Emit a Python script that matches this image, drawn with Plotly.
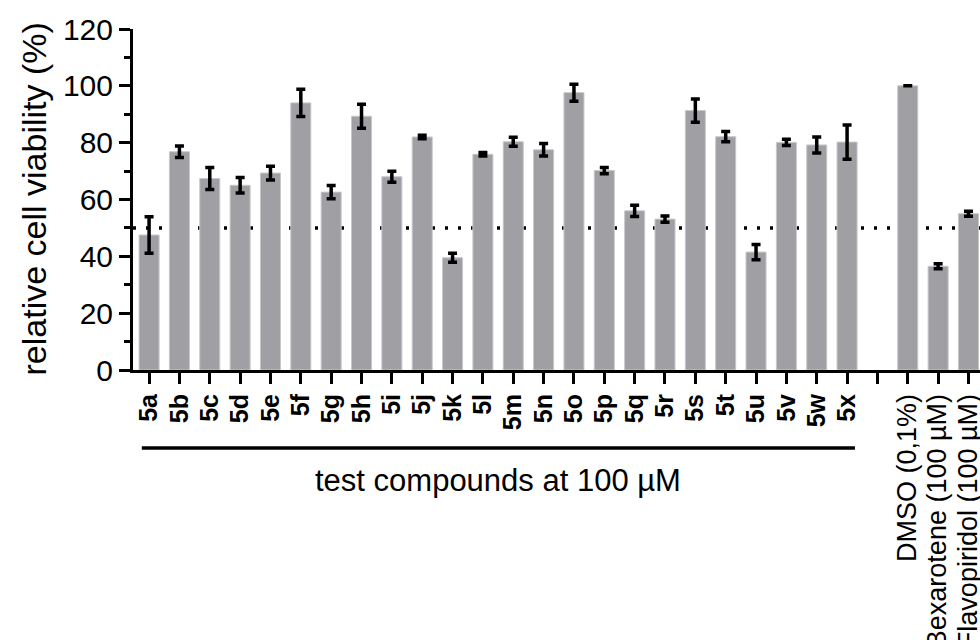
import plotly.graph_objects as go

# ---- data ----
compounds = ["5a", "5b", "5c", "5d", "5e", "5f", "5g", "5h", "5i", "5j", "5k", "5l",
             "5m", "5n", "5o", "5p", "5q", "5r", "5s", "5t", "5u", "5v", "5w", "5x"]
compound_values = [47.5, 76.8, 67.4, 65.0, 69.3, 94.0, 62.6, 89.3, 68.0, 82.0, 39.5, 75.9,
                   80.3, 77.5, 97.6, 70.2, 56.0, 53.1, 91.3, 82.1, 41.5, 80.1, 79.2, 80.2]
compound_errors = [6.4, 2.0, 3.9, 2.7, 2.4, 4.8, 2.3, 4.2, 1.9, 0.6, 1.6, 0.6,
                   1.6, 2.2, 3.0, 1.1, 2.0, 1.1, 4.1, 1.8, 2.7, 1.1, 2.8, 6.0]

gap_category = "gap"
controls = ["DMSO (0,1%)", "Bexarotene (100 µM)", "Flavopiridol (100 µM)"]
control_values = [100.0, 36.5, 55.0]
control_errors = [0.0, 0.9, 0.9]

threshold = 50
y_ticks = [0, 20, 40, 60, 80, 100, 120]
group_label = "test compounds at 100 µM"
y_title = "relative cell viability (%)"

# ---- build ----
categories = compounds + [gap_category] + controls
values = compound_values + [None] + control_values
errors = compound_errors + [0.0] + control_errors
ticktext = ["<b>%s</b>" % c for c in compounds] + [""] + \
           ['<span style="font-size:27px">%s</span>' % c for c in controls]

FONT = "Liberation Sans, Arial, Helvetica, sans-serif"
BAR = "#a09fa4"

fig = go.Figure()
fig.add_trace(go.Bar(
    x=categories, y=values,
    marker=dict(color=BAR, line=dict(color="#c8c8cb", width=1)),
    error_y=dict(type="data", array=errors, visible=True,
                 color="black", thickness=3.5, width=4.5),
    showlegend=False, hoverinfo="x+y",
))

n = len(categories)
fig.update_layout(
    width=980, height=640,
    margin=dict(l=133, r=0, t=29, b=270, pad=0),
    paper_bgcolor="white", plot_bgcolor="white",
    bargap=0.34,
    font=dict(family=FONT, color="black"),
    xaxis=dict(
        type="category", categoryorder="array", categoryarray=categories,
        tickmode="array", tickvals=categories, ticktext=ticktext,
        tickangle=-90, tickfont=dict(size=25, family=FONT, color="black"),
        ticks="outside", ticklen=11, tickwidth=3, tickcolor="black",
        showline=True, linewidth=3, linecolor="black",
        showgrid=False, zeroline=False, automargin=False,
        range=[-0.53, n - 1 + 0.38],
    ),
    yaxis=dict(
        range=[0, 120], tickmode="array", tickvals=y_ticks,
        tickfont=dict(size=30, family=FONT, color="black"),
        ticks="outside", ticklen=11, tickwidth=3, tickcolor="black",
        minor=dict(dtick=10, ticks="outside", ticklen=6, tickwidth=3, tickcolor="black"),
        showline=True, linewidth=3, linecolor="black",
        showgrid=False, zeroline=False, automargin=False,
    ),
)

# dotted 50% threshold line behind the bars
fig.add_shape(type="line", xref="paper", x0=0, x1=1, yref="y", y0=threshold, y1=threshold,
              line=dict(color="black", width=3.5, dash="3px,10px"), layer="below")

# bracket line under compound group
fig.add_shape(type="line", xref="x", x0=-0.24, x1=len(compounds) - 1 + 0.26,
              yref="paper", y0=-0.2287, y1=-0.2287,
              line=dict(color="black", width=3.5))

fig.add_annotation(x=(len(compounds) - 1) / 2, xref="x", y=-0.325, yref="paper",
                   text=group_label, showarrow=False, xanchor="center", yanchor="middle",
                   font=dict(size=31, family=FONT, color="black"))

fig.add_annotation(x=0, xref="paper", xshift=-100, y=0.5, yref="paper",
                   text=y_title, textangle=-90, showarrow=False,
                   xanchor="center", yanchor="middle",
                   font=dict(size=34, family=FONT, color="black"))

fig.write_html("out.html")
